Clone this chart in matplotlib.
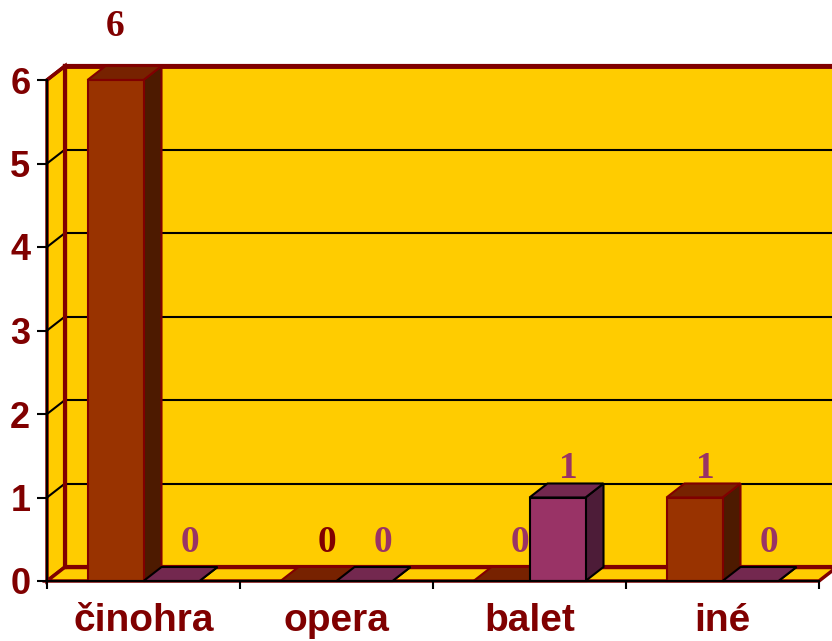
import matplotlib
matplotlib.use("Agg")
import matplotlib.pyplot as plt
from matplotlib.patches import Polygon, Rectangle

categories = ["činohra", "opera", "balet", "iné"]
series1 = [6, 0, 0, 1]
series2 = [0, 0, 1, 0]
yticks = [0, 1, 2, 3, 4, 5, 6]

WALL = "#FFCC00"
DARKRED = "#800000"
PURPLE = "#993366"
S1 = dict(front="#993300", top="#772200", side="#4D1A00", edge="#800000")
S2 = dict(front="#993366", top="#73284F", side="#4D1C38", edge="#000000")
# label colours as they appear in the original
s1_label_colors = [DARKRED, DARKRED, PURPLE, PURPLE]
s2_label_colors = [PURPLE, PURPLE, PURPLE, PURPLE]

fig = plt.figure(figsize=(8.32, 6.41), dpi=100)
W, H = 832, 641
ax = fig.add_axes([47 / W, 60 / H, 772 / W, 501 / H])
n = len(categories)
ymax = max(yticks)
ax.set_xlim(0, n)
ax.set_ylim(0, ymax)
ax.patch.set_visible(False)

# 3D depth offsets in data units (derived from pixel scale of axes)
px_x = n / 772.0
px_y = ymax / 501.0
dx, dy = 18 * px_x, 14 * px_y

# back wall
ax.add_patch(Rectangle((dx, dy), n + 0.2, ymax, facecolor=WALL, edgecolor=DARKRED,
                       lw=3, clip_on=False, zorder=0.5))
# left side wall
ax.add_patch(Polygon([(0, 0), (dx, dy), (dx, ymax + dy), (0, ymax)], closed=True,
                     facecolor=WALL, edgecolor=DARKRED, lw=2.5, clip_on=False, zorder=0.6))
# floor
ax.add_patch(Polygon([(0, 0), (n, 0), (n + dx, dy), (dx, dy)], closed=True,
                     facecolor=WALL, edgecolor=DARKRED, lw=2.5, clip_on=False, zorder=0.6))
# gridlines
for t in yticks[1:-1]:
    ax.plot([dx, n + dx + 0.2], [t + dy, t + dy], color="black", lw=1.5, clip_on=False, zorder=0.7)
    ax.plot([0, dx], [t, t + dy], color="black", lw=1.5, clip_on=False, zorder=0.7)
# redraw thick borders on top of grid
ax.plot([dx, n + dx + 0.2], [ymax + dy, ymax + dy], color=DARKRED, lw=3.5, clip_on=False, zorder=0.8)
ax.plot([dx, dx], [dy, ymax + dy], color=DARKRED, lw=3, clip_on=False, zorder=0.8)
ax.plot([dx, n + dx + 0.2], [dy, dy], color=DARKRED, lw=2.5, clip_on=False, zorder=0.8)
ax.plot([0, dx], [ymax, ymax + dy], color=DARKRED, lw=2.5, clip_on=False, zorder=0.8)

bw = 56 / 193.0
z = 2
for i in range(n):
    c = i + 0.5
    for x0, v, st, lc in ((c - bw, series1[i], S1, s1_label_colors[i]),
                          (c, series2[i], S2, s2_label_colors[i])):
        side = Polygon([(x0 + bw, 0), (x0 + bw + dx, dy), (x0 + bw + dx, v + dy), (x0 + bw, v)],
                       closed=True, facecolor=st["side"], edgecolor=st["edge"], lw=1.5,
                       clip_on=False, zorder=z)
        top = Polygon([(x0, v), (x0 + bw, v), (x0 + bw + dx, v + dy), (x0 + dx, v + dy)],
                      closed=True, facecolor=st["top"], edgecolor=st["edge"], lw=1.5,
                      clip_on=False, zorder=z + 0.1)
        ax.add_patch(side)
        ax.add_patch(top)
        if v > 0:
            ax.bar([x0], [v], width=bw, align="edge", color=st["front"], edgecolor=st["edge"],
                   lw=1.5, clip_on=False, zorder=z + 0.2)
        z += 1
        # data label (baseline offset above the back edge of the bar top)
        if v == ymax:
            off, xs = 30 * px_y, 0
        elif v > 0:
            off, xs = 5 * px_y, dx * 0.6
        else:
            off, xs = 15 * px_y, dx
        ax.text(x0 + bw / 2 + xs, v + dy + off, str(v), ha="center", va="baseline",
                fontsize=27, fontweight="bold", family="Liberation Serif",
                color=lc, zorder=20, clip_on=False)

# axes styling
for s in ("top", "right"):
    ax.spines[s].set_visible(False)
for s in ("left", "bottom"):
    ax.spines[s].set_color("black")
    ax.spines[s].set_linewidth(1.5)
    ax.spines[s].set_zorder(10)

ax.set_yticks(yticks)
ax.set_yticklabels([str(t) for t in yticks])
ax.tick_params(axis="y", direction="out", length=7, width=1.5, color="black", pad=5,
               labelsize=26, labelcolor=DARKRED)
for lab in ax.get_yticklabels():
    lab.set_fontweight("bold")
    lab.set_family("Liberation Sans")

ax.set_xticks(range(n + 1))
ax.set_xticklabels([])
ax.set_xticks([i + 0.5 for i in range(n)], minor=True)
ax.set_xticklabels(categories, minor=True)
ax.tick_params(axis="x", which="major", direction="out", length=6, width=1.5, color="black")
ax.tick_params(axis="x", which="minor", length=0, pad=16, labelsize=28, labelcolor=DARKRED)
for lab in ax.get_xticklabels(minor=True):
    lab.set_fontweight("bold")
    lab.set_family("Liberation Sans")

fig.savefig("out.png", dpi=100)
